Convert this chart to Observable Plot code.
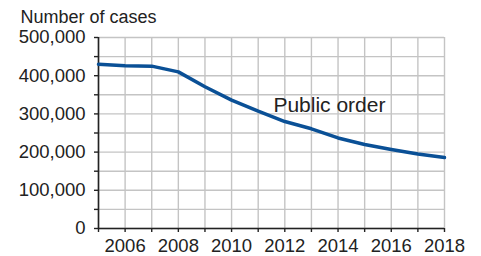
<!DOCTYPE html>
<html>
<head>
<meta charset="utf-8">
<script src="https://cdn.jsdelivr.net/npm/d3@7"></script>
<script src="https://cdn.jsdelivr.net/npm/@observablehq/plot@0.6"></script>
<style>
  html, body { margin: 0; padding: 0; background: #fff; }
</style>
</head>
<body>
<div id="chart"></div>
<script>
const years = [2005, 2006, 2007, 2008, 2009, 2010, 2011, 2012, 2013, 2014, 2015, 2016, 2017, 2018];
const cases = [430000, 426000, 425000, 410000, 371000, 336000, 307000, 280000, 261000, 237000, 220000, 207000, 195000, 186000];
const yTicks = [0, 50000, 100000, 150000, 200000, 250000, 300000, 350000, 400000, 450000, 500000];
const xTicks = years;
const seriesName = "Public order";
const yTitle = "Number of cases";
const labelAnchor = [{year: 2013, value: 300000}];

const data = years.map((y, i) => ({year: y, value: cases[i]}));
const fmt = d3.format(",");

const chart = Plot.plot({
  width: 481,
  height: 256,
  marginTop: 37,
  marginLeft: 98,
  marginRight: 37,
  marginBottom: 28,
  style: {fontFamily: "'Liberation Sans', Arial, sans-serif", fontSize: "18.5px", color: "#222", background: "#fff"},
  x: {domain: [2005, 2018]},
  y: {domain: [0, 500000]},
  marks: [
    Plot.ruleY(yTicks, {stroke: "#c4c4c4", strokeWidth: 1.4}),
    Plot.ruleX(xTicks, {stroke: "#c4c4c4", strokeWidth: 1.4}),
    Plot.ruleX([2005], {stroke: "#222", strokeWidth: 1.6}),
    Plot.ruleY([0], {stroke: "#222", strokeWidth: 1.6}),
    Plot.axisY({ticks: yTicks, tickSize: 4, tickPadding: 9, stroke: "#222", strokeWidth: 1.4,
      tickFormat: d => d % 100000 === 0 ? fmt(d) : "", label: null}),
    Plot.axisX({ticks: xTicks, tickSize: 4, tickPadding: 6, stroke: "#222", strokeWidth: 1.4,
      tickFormat: d => d % 2 === 0 ? String(d) : "", label: null}),
    Plot.lineY(data, {x: "year", y: "value", stroke: "#0a5096", strokeWidth: 3.5}),
    Plot.text(labelAnchor, {x: "year", y: "value", text: () => seriesName, textAnchor: "middle",
      dx: 18, dy: -9, fontSize: 21, fill: "#222"}),
    Plot.text([yTitle], {frameAnchor: "top-left", textAnchor: "start", lineAnchor: "top", dx: -78, dy: -27,
      fontSize: 18, fill: "#222"})
  ]
});
document.getElementById("chart").appendChild(chart);
</script>
</body>
</html>
